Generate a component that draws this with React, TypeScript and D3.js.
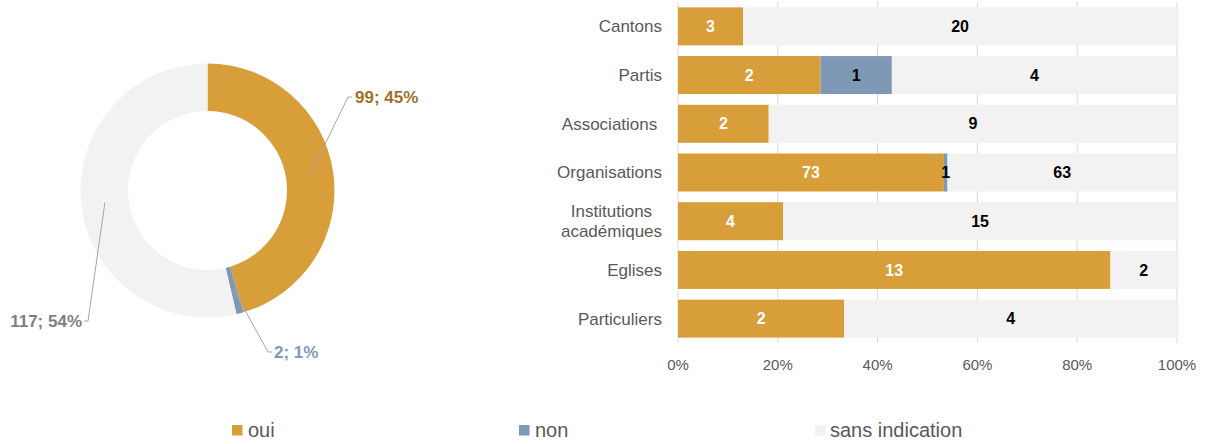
import React from "react";
import * as d3 from "d3";

const seriesNames = ["oui", "non", "sans indication"];
const seriesColors = ["#D79E39", "#7F98B6", "#F2F2F2"];

const totals = [99, 2, 117];
const totalLabelColors = ["#9E7028", "#7F98B6", "#7F7F7F"];

const categories = [
  ["Cantons"],
  ["Partis"],
  ["Associations "],
  ["Organisations"],
  ["Institutions", "académiques"],
  ["Eglises"],
  ["Particuliers"],
];
const ouiValues = [3, 2, 2, 73, 4, 13, 2];
const nonValues = [0, 1, 0, 1, 0, 0, 0];
const sansValues = [20, 4, 9, 63, 15, 2, 4];

const xTicks = [0, 0.2, 0.4, 0.6, 0.8, 1];

const FONT = "'Liberation Sans', Arial, Helvetica, sans-serif";

export default function App() {
  // Donut
  const cx = 207.5, cy = 190.5, R = 127, r = 79.5;
  const pie = d3.pie<number>().sort(null).value((d) => d).startAngle(0).endAngle(2 * Math.PI);
  const arcs = pie(totals);
  const arcGen = d3.arc<d3.PieArcDatum<number>>().innerRadius(r).outerRadius(R);
  const sum = d3.sum(totals);
  // label anchor positions (layout): [elbowX, elbowY, endX, textX, textAnchor]
  const labelLayout: [number, number, number, number, string][] = [
    [348, 97, 352, 355, "start"],
    [268, 352, 272, 274, "start"],
    [88, 321, 84, 82, "end"],
  ];

  // Bars
  const x = d3.scaleLinear().domain([0, 1]).range([678, 1177]);
  const y = d3
    .scaleBand<number>()
    .domain(categories.map((_, i) => i))
    .range([2, 343])
    .paddingInner(0.22)
    .paddingOuter(0.11);
  const stacks = categories.map((_, i) => {
    const vals = [ouiValues[i], nonValues[i], sansValues[i]];
    const t = d3.sum(vals);
    let acc = 0;
    return vals.map((v, k) => {
      const s = acc / t;
      acc += v;
      return { v, k, x0: s, x1: acc / t };
    });
  });

  const legendX = [[232, 248], [519, 535], [815, 830]];

  return (
    <div style={{ position: "absolute", left: 0, top: 0 }}>
      <svg width={1210} height={444} style={{ display: "block", fontFamily: FONT }}>
        <rect width={1210} height={444} fill="#fff" />
        {/* donut */}
        <g transform={`translate(${cx},${cy})`}>
          {arcs.map((a, i) => (
            <path key={i} d={arcGen(a) || ""} fill={seriesColors[i]} />
          ))}
        </g>
        {arcs.map((a, i) => {
          const [px, py] = arcGen.centroid(a);
          const [ex, ey, endX, tx, anchor] = labelLayout[i];
          const pct = Math.round((totals[i] / sum) * 100);
          return (
            <g key={i}>
              <polyline
                points={`${cx + px},${cy + py} ${ex},${ey} ${endX},${ey}`}
                fill="none"
                stroke="#A6A6A6"
                strokeWidth={1}
              />
              <text
                x={tx}
                y={ey}
                dy="0.35em"
                textAnchor={anchor as any}
                fontSize={17}
                fontWeight="bold"
                fill={totalLabelColors[i]}
              >
                {`${totals[i]}; ${pct}%`}
              </text>
            </g>
          );
        })}

        {/* bar gridlines */}
        {xTicks.map((t) => (
          <line key={t} x1={x(t)} x2={x(t)} y1={2} y2={343} stroke="#D9D9D9" strokeWidth={1} />
        ))}
        {/* bars */}
        {stacks.map((segs, i) => (
          <g key={i}>
            {segs.map((s) =>
              s.v > 0 ? (
                <rect
                  key={s.k}
                  x={x(s.x0)}
                  y={y(i)}
                  width={x(s.x1) - x(s.x0)}
                  height={y.bandwidth()}
                  fill={seriesColors[s.k]}
                />
              ) : null
            )}
            {segs.map((s) =>
              s.v > 0 ? (
                <text
                  key={"t" + s.k}
                  x={(x(s.x0) + x(s.x1)) / 2}
                  y={(y(i) || 0) + y.bandwidth() / 2}
                  dy="0.35em"
                  textAnchor="middle"
                  fontSize={16}
                  fontWeight="bold"
                  fill={s.k === 0 ? "#FFFFFF" : "#000000"}
                >
                  {s.v}
                </text>
              ) : null
            )}
          </g>
        ))}
        {/* category labels */}
        {categories.map((lines, i) => {
          const yc = (y(i) || 0) + y.bandwidth() / 2;
          if (lines.length === 1) {
            return (
              <text
                key={i}
                x={662}
                y={yc}
                dy="0.35em"
                textAnchor="end"
                fontSize={17}
                fill="#595959"
                style={{ whiteSpace: "pre" }}
              >
                {lines[0]}
              </text>
            );
          }
          return (
            <text key={i} x={611.5} y={yc} textAnchor="middle" fontSize={17} fill="#595959">
              {lines.map((l, j) => (
                <tspan key={j} x={611.5} y={yc + (j - (lines.length - 1) / 2) * 20} dy="0.35em">
                  {l}
                </tspan>
              ))}
            </text>
          );
        })}
        {/* x ticks */}
        {xTicks.map((t) => (
          <text key={t} x={x(t)} y={365} dy="0.35em" textAnchor="middle" fontSize={15} fill="#595959">
            {d3.format(".0%")(t)}
          </text>
        ))}
        {/* legend */}
        {seriesNames.map((n, i) => (
          <g key={n}>
            <rect x={legendX[i][0]} y={425} width={10.5} height={10.5} fill={seriesColors[i]} />
            <text x={legendX[i][1]} y={430} dy="0.35em" fontSize={20} fill="#595959">
              {n}
            </text>
          </g>
        ))}
      </svg>
    </div>
  );
}
